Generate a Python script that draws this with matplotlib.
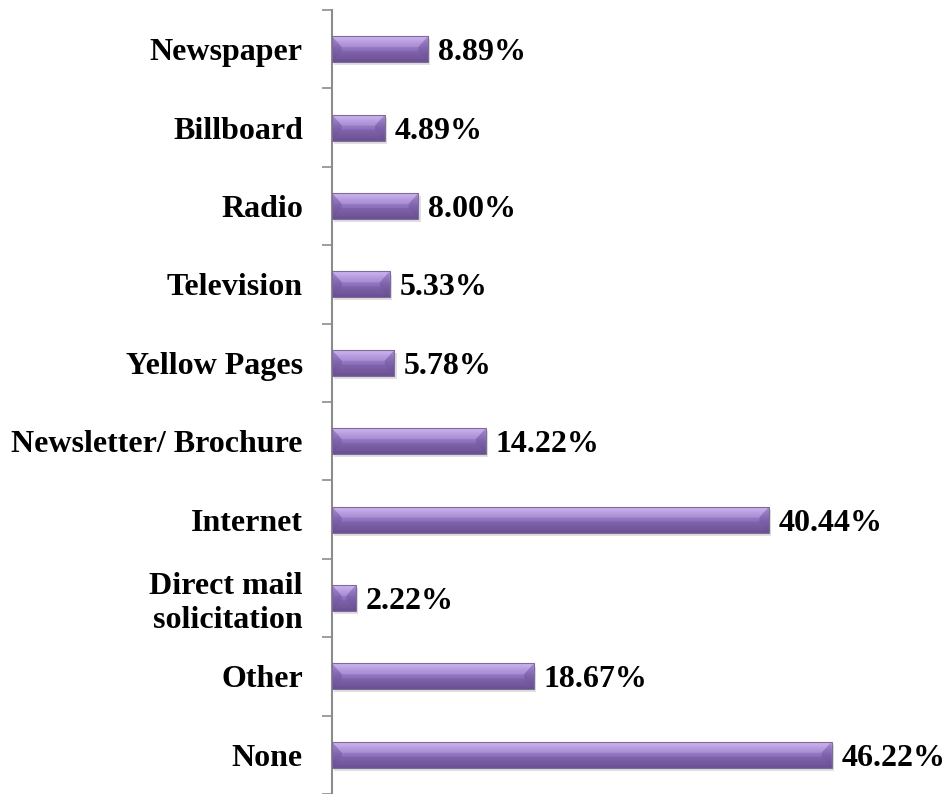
import matplotlib
matplotlib.use("Agg")
import matplotlib.pyplot as plt
import numpy as np
from matplotlib.colors import LinearSegmentedColormap
from matplotlib.patches import Polygon

categories = ["Newspaper", "Billboard", "Radio", "Television", "Yellow Pages",
              "Newsletter/ Brochure", "Internet", "Direct mail\nsolicitation",
              "Other", "None"]
values = [8.89, 4.89, 8.00, 5.33, 5.78, 14.22, 40.44, 2.22, 18.67, 46.22]

plt.rcParams["font.family"] = ["Liberation Serif", "DejaVu Serif"]

fig = plt.figure(figsize=(9.48, 7.94), dpi=100)
ax = fig.add_axes([332 / 948, 0.0, 1 - 332 / 948, 784 / 794])

n = len(categories)
ypos = np.arange(n)
bar_h = 0.33

# vertical gradient for the bevelled bars: light lilac on top, deeper violet below
grad_cmap = LinearSegmentedColormap.from_list(
    "bar", ["#c6a9ee", "#a98ad8", "#9072be", "#8265ae", "#74579e"])
grad = np.linspace(0, 1, 64).reshape(-1, 1)

for y, v in zip(ypos, values):
    top, bot = y - bar_h / 2, y + bar_h / 2
    # soft drop shadow
    ax.add_patch(plt.Rectangle((0.2, top + 0.04), v, bar_h,
                               color="#000000", alpha=0.12, lw=0, zorder=1))
    ax.imshow(grad, cmap=grad_cmap, aspect="auto", interpolation="bicubic",
              extent=(0, v, bot, top), zorder=2)
    bx = min(0.9, v / 2.2)
    by = bar_h * 0.42
    # bevel faces
    ax.add_patch(Polygon([(0, top), (v, top), (v - bx, top + by), (bx, top + by)],
                         closed=True, color="white", alpha=0.15, lw=0, zorder=3))
    ax.add_patch(Polygon([(0, bot), (v, bot), (v - bx, bot - by), (bx, bot - by)],
                         closed=True, color="#2e1f48", alpha=0.12, lw=0, zorder=3))
    ax.add_patch(Polygon([(0, top), (bx, top + by), (bx, bot - by), (0, bot)],
                         closed=True, color="#3a2760", alpha=0.2, lw=0, zorder=3))
    ax.add_patch(Polygon([(v, top), (v - bx, top + by), (v - bx, bot - by), (v, bot)],
                         closed=True, color="#3a2760", alpha=0.2, lw=0, zorder=3))
    ax.add_patch(plt.Rectangle((0, top), v, bar_h, fill=False,
                               ec="#7d6c96", lw=0.8, zorder=4))
    ax.annotate(f"{v:.2f}%", xy=(v, y), xytext=(7, 0), textcoords="offset points",
                ha="left", va="center_baseline", fontsize=23, fontweight="bold",
                color="black")

ax.set_xlim(0, 57)
ax.set_ylim(n - 0.5, -0.5)

ax.set_yticks(ypos)
ax.set_yticklabels(categories, fontsize=23, fontweight="bold",
                   va="center_baseline")
ax.set_yticks(np.arange(n + 1) - 0.5, minor=True)
ax.tick_params(axis="y", which="major", length=0, pad=21)
ax.tick_params(axis="y", which="minor", length=7, width=1.2, color="#8c8c8c")
ax.set_xticks([])

for s in ["top", "right", "bottom"]:
    ax.spines[s].set_visible(False)
ax.spines["left"].set_color("#8c8c8c")
ax.spines["left"].set_linewidth(1.5)

fig.savefig("out.png", dpi=100)
